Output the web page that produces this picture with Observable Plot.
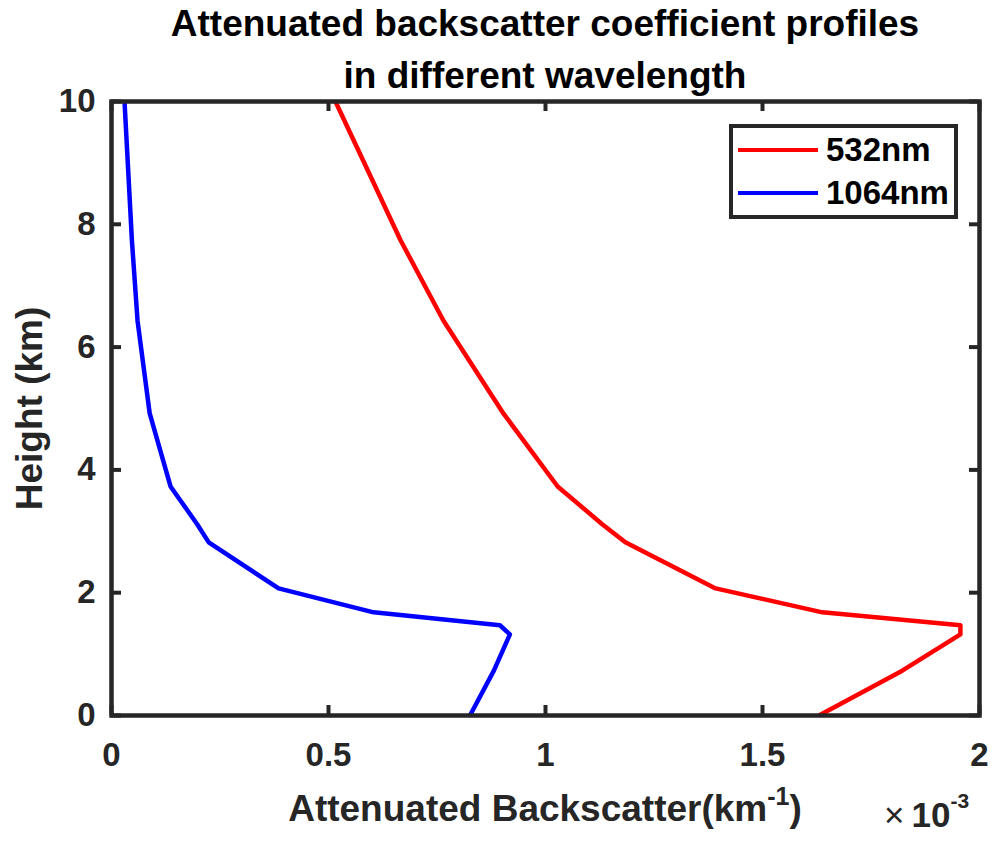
<!DOCTYPE html>
<html>
<head>
<meta charset="utf-8">
<script src="https://cdn.jsdelivr.net/npm/d3@7"></script>
<script src="https://cdn.jsdelivr.net/npm/@observablehq/plot@0.6"></script>
<style>
  html, body { margin: 0; padding: 0; background: #fff; }
  #wrap { position: relative; width: 995px; height: 842px; font-family: "Liberation Sans", Arial, sans-serif; color: #000; }
  #title { position: relative; z-index: 2; height: 86px; width: 995px; overflow: visible; }
  #title div { position: absolute; left: 111px; width: 868px; text-align: center; font-weight: bold; font-size: 37px; line-height: 52px; white-space: nowrap; }
  .ov { position: absolute; z-index: 3; white-space: nowrap; color: #262626; }
  #xlabel { left: 111px; width: 868px; top: 787px; text-align: center; font-weight: bold; font-size: 37px; line-height: 44px; }
  #xlabel sup { font-size: 25px; vertical-align: 0; position: relative; top: -16px; }
  #expo { left: 884px; top: 795px; font-size: 35px; line-height: 40px; }
  #expo b { margin-left: 7px; }
  #expo b sup { font-size: 21px; position: relative; top: -19px; vertical-align: 0; }
  #legend { left: 729px; top: 124px; width: 229px; height: 95px; box-sizing: border-box; border: 4px solid #262626; background: #fff; }
  #legend .row { display: flex; align-items: center; height: 43px; }
  #legend .sw { width: 80px; height: 4px; margin-left: 5px; }
  #legend .lb { margin-left: 8px; font-weight: bold; font-size: 33px; color: #000; line-height: 40px; }
</style>
</head>
<body>
<div id="wrap">
  <div id="title"></div>
  <div id="chart"></div>
  <div id="xlabel" class="ov"></div>
  <div id="expo" class="ov"></div>
  <div id="legend" class="ov"></div>
</div>
<script>
// ---- data (x values in units of 1e-3 km^-1) ----
const heights  = [0, 0.73, 1.32, 1.47, 1.68, 2.07, 2.82, 3.12, 3.73, 4.92, 6.43, 7.74, 10];
const red532   = [1.630, 1.822, 1.956, 1.956, 1.638, 1.392, 1.184, 1.13, 1.028, 0.903, 0.765, 0.666, 0.516];
const blue1064 = [0.826, 0.881, 0.918, 0.895, 0.604, 0.385, 0.224, 0.197, 0.136, 0.088, 0.060, 0.047, 0.030];
const seriesNames  = ["532nm", "1064nm"];
const seriesColors = ["#ff0000", "#0000ff"];
const xTicks = [0, 0.5, 1, 1.5, 2];
const yTicks = [0, 2, 4, 6, 8, 10];
const titleLines = ["Attenuated backscatter coefficient profiles", "in different wavelength"];
const yLabel = "Height (km)";
const xLabelMain = "Attenuated Backscatter(km";
const xLabelSup = "-1";
const exponentText = "-3";

// ---- build table ----
const rows = [];
heights.forEach((h, i) => {
  rows.push({series: seriesNames[0], x: red532[i], h});
  rows.push({series: seriesNames[1], x: blue1064[i], h});
});

// ---- title ----
const titleEl = document.getElementById("title");
titleLines.forEach((t, i) => {
  const d = document.createElement("div");
  d.textContent = t;
  d.style.top = (i * 52 - 2) + "px";
  titleEl.appendChild(d);
});

const W = 995, H = 756;
const mL = 111, mR = 16, mT = 15, mB = 127;
const frameW = W - mL - mR, frameH = H - mT - mB;
const tickLen = 10;
const axisColor = "#262626";

const chart = Plot.plot({
  width: W,
  height: H,
  marginLeft: mL,
  marginRight: mR,
  marginTop: mT,
  marginBottom: mB,
  style: {background: "transparent", overflow: "visible", fontFamily: "'Liberation Sans', Arial, sans-serif"},
  x: {domain: [0, 2]},
  y: {domain: [0, 10]},
  color: {domain: seriesNames, range: seriesColors},
  marks: [
    Plot.line(rows, {x: "x", y: "h", z: "series", stroke: "series", strokeWidth: 4.5, strokeLinejoin: "round", strokeLinecap: "butt"}),
    Plot.tickX(xTicks, {x: d => d, stroke: axisColor, strokeWidth: 4, insetTop: frameH - tickLen}),
    Plot.tickX(xTicks, {x: d => d, stroke: axisColor, strokeWidth: 4, insetBottom: frameH - tickLen}),
    Plot.tickY(yTicks, {y: d => d, stroke: axisColor, strokeWidth: 4, insetRight: frameW - tickLen}),
    Plot.tickY(yTicks, {y: d => d, stroke: axisColor, strokeWidth: 4, insetLeft: frameW - tickLen}),
    Plot.frame({stroke: axisColor, strokeWidth: 4.5}),
    Plot.axisX(xTicks, {anchor: "bottom", tickSize: 0, tickPadding: 27, fontSize: 33, fontWeight: "bold", fill: axisColor, tickFormat: d => String(d), label: null}),
    Plot.axisY(yTicks, {anchor: "left", tickSize: 0, tickPadding: 16, fontSize: 33, fontWeight: "bold", fill: axisColor, tickFormat: d => String(d), label: null}),
    Plot.text([yLabel], {text: d => d, frameAnchor: "left", rotate: -90, dx: -81, fontSize: 37, fontWeight: "bold", fill: axisColor, textAnchor: "middle", lineAnchor: "middle"})
  ]
});
document.getElementById("chart").appendChild(chart);

// ---- x label & exponent ----
const xl = document.getElementById("xlabel");
xl.append(xLabelMain);
const sup = document.createElement("sup"); sup.textContent = xLabelSup; xl.appendChild(sup);
xl.append(")");

const ex = document.getElementById("expo");
const times = document.createElement("span"); times.textContent = "\u00d7"; ex.appendChild(times);
const b = document.createElement("b"); b.append("10");
const s2 = document.createElement("sup"); s2.textContent = exponentText; b.appendChild(s2);
ex.appendChild(b);

// ---- legend ----
const lg = document.getElementById("legend");
seriesNames.forEach((n, i) => {
  const r = document.createElement("div"); r.className = "row";
  const sw = document.createElement("span"); sw.className = "sw"; sw.style.background = seriesColors[i];
  const lb = document.createElement("span"); lb.className = "lb"; lb.textContent = n;
  r.appendChild(sw); r.appendChild(lb); lg.appendChild(r);
});
</script>
</body>
</html>
